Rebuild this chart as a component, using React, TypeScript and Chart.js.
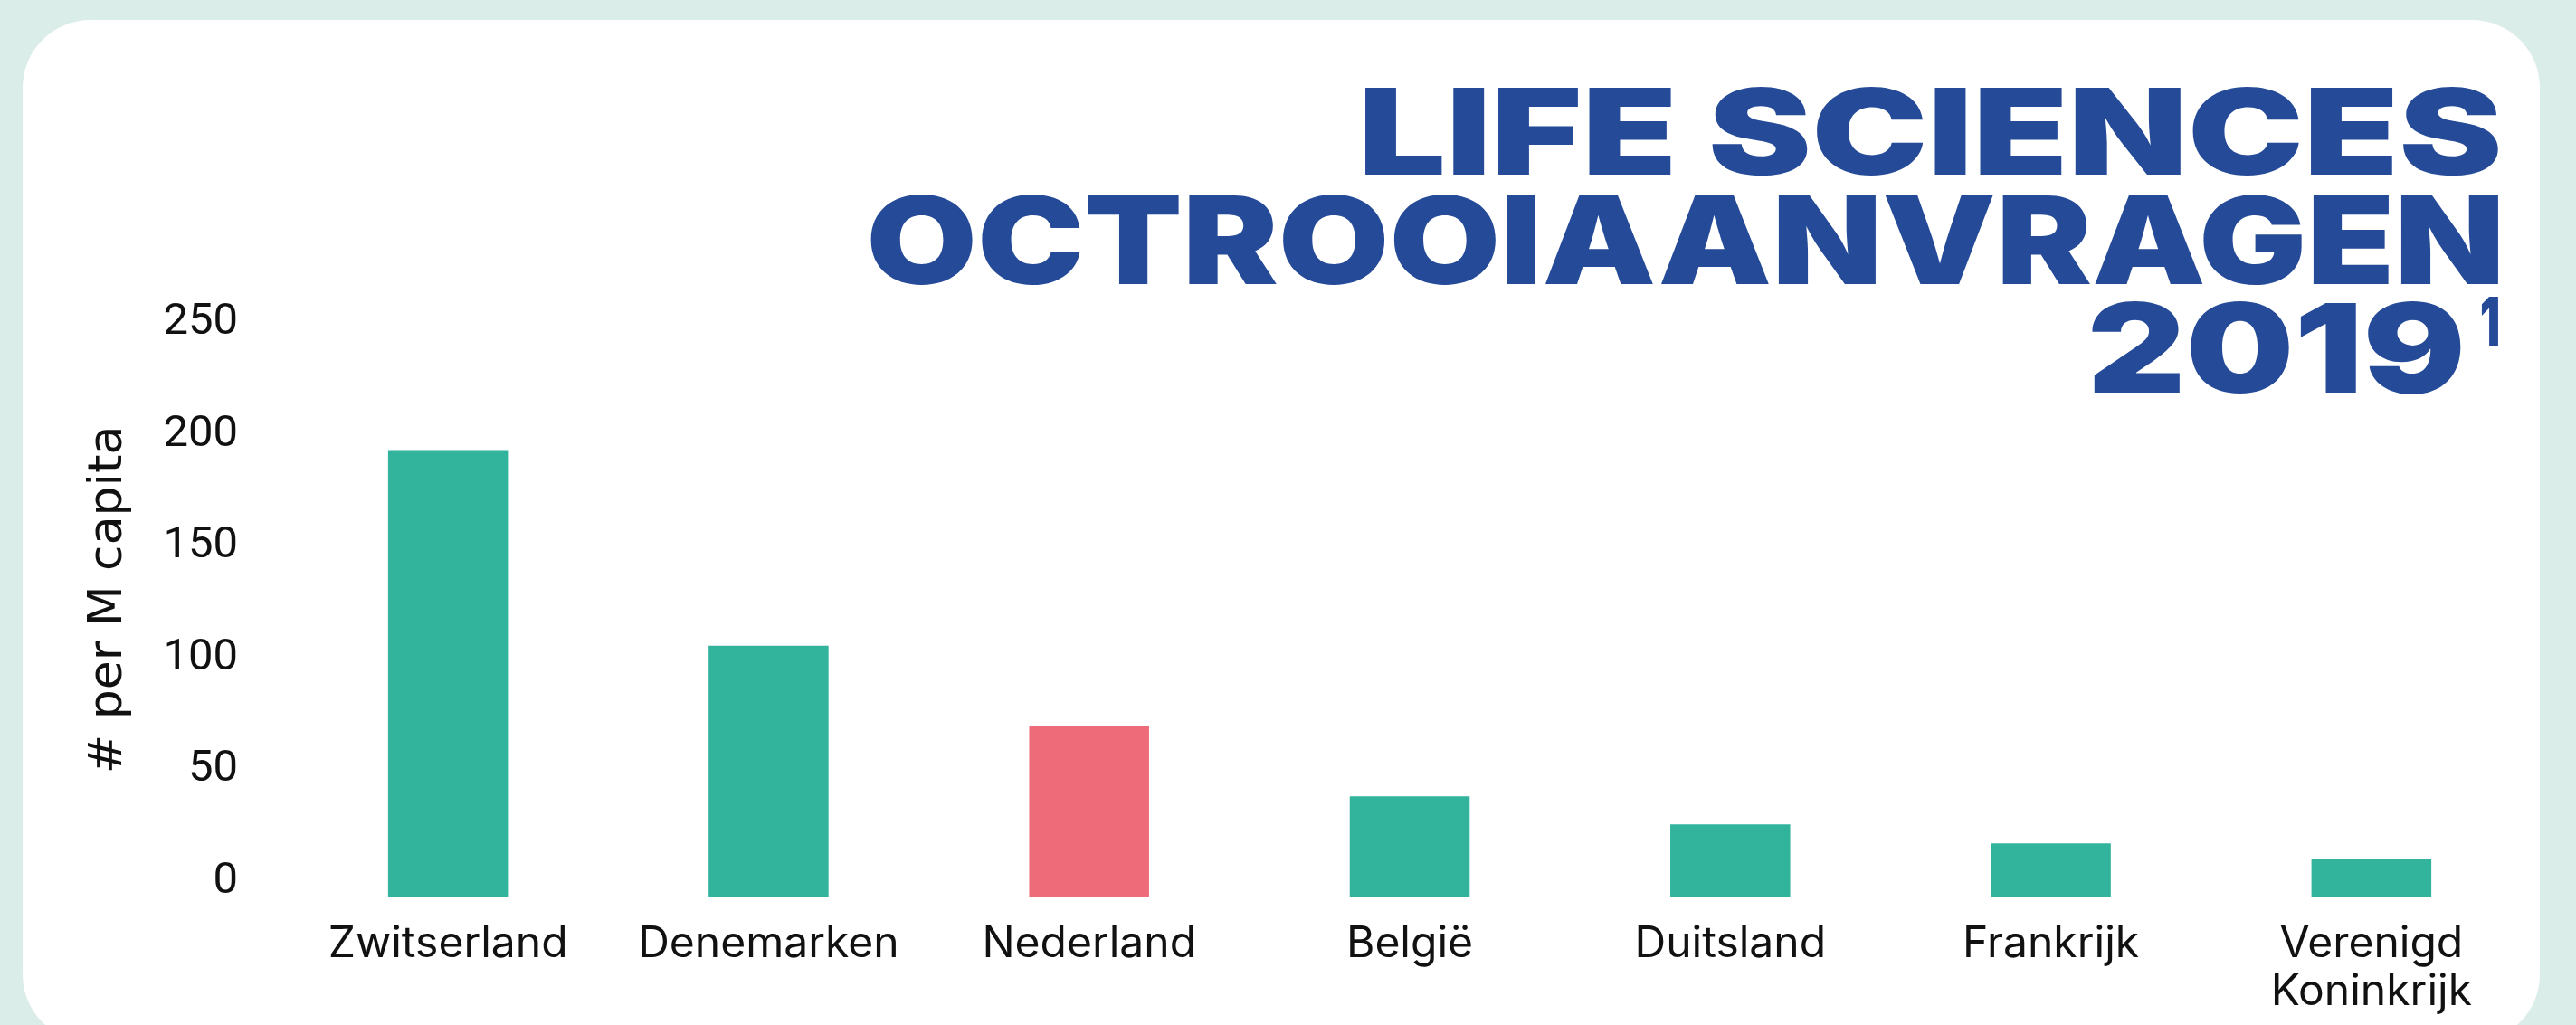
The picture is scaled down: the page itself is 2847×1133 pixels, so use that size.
import React, { useEffect, useRef } from "react";
import { Chart, registerables } from "chart.js";

Chart.register(...registerables);

// ---- data ----
const categories: (string | string[])[] = [
  "Zwitserland",
  "Denemarken",
  "Nederland",
  "België",
  "Duitsland",
  "Frankrijk",
  ["Verenigd", "Koninkrijk"],
];
const values = [200, 112.5, 76.5, 45, 32.5, 24, 17];
const highlightIndex = [2];
const yTickValues = [0, 50, 100, 150, 200, 250];
const yAxisTitle = "# per M capita";
const titleLines = ["LIFE SCIENCES", "OCTROOIAANVRAGEN", "2019"];
const titleSup = "1";

// ---- styles ----
const W = 2847;
const H = 1133;
const BG = "#DBEDE8";
const TEAL = "#31B39C";
const PINK = "#EE6C79";
const BLUE = "#254A98";
const TEXT = "#111111";
const FONT = "Roboto, 'Noto Sans', sans-serif";
const LABEL_FONT = "Inter, Roboto, sans-serif";
const TITLE_FONT = "Inter, Roboto, sans-serif";

// measure the real ink box of a text by rasterising it off-screen
function inkBox(text: string, font: string) {
  const c = document.createElement("canvas");
  c.width = 3000;
  c.height = 400;
  const g = c.getContext("2d") as CanvasRenderingContext2D;
  g.font = font;
  g.textAlign = "left";
  g.textBaseline = "alphabetic";
  g.fillStyle = "#000";
  const ox = 200;
  const oy = 300;
  g.fillText(text, ox, oy);
  const d = g.getImageData(0, 0, c.width, c.height).data;
  let minX = c.width, maxX = -1, minY = c.height, maxY = -1;
  for (let y = 0; y < c.height; y++) {
    for (let x = 0; x < c.width; x++) {
      if (d[(y * c.width + x) * 4 + 3] > 100) {
        if (x < minX) minX = x;
        if (x > maxX) maxX = x;
        if (y < minY) minY = y;
        if (y > maxY) maxY = y;
      }
    }
  }
  return { left: minX - ox, right: maxX + 1 - ox, top: oy - minY, bottom: maxY + 1 - oy };
}

const titlePlugin = {
  id: "bigTitle",
  afterDraw(chart: any) {
    const ctx: CanvasRenderingContext2D = chart.ctx;
    ctx.save();
    ctx.fillStyle = BLUE;
    const draw = (text: string, left: number, right: number, baseline: number, capH: number) => {
      const size = 130;
      const font = `900 ${size}px ${TITLE_FONT}`;
      const b = inkBox(text, font);
      const sx = (right - left) / (b.right - b.left);
      const sy = capH / b.top;
      ctx.save();
      ctx.font = font;
      ctx.textAlign = "left";
      ctx.textBaseline = "alphabetic";
      ctx.translate(left, baseline);
      ctx.scale(sx, sy);
      ctx.fillText(text, -b.left, 0);
      ctx.restore();
    };
    draw(titleLines[0], 1509, 2761, 193, 97);
    draw(titleLines[1], 962, 2761, 314, 99);
    draw(titleLines[2], 2312, 2720, 434, 101);
    draw(titleSup, 2743, 2761, 383, 55);
    ctx.restore();
  },
};

export default function App() {
  const ref = useRef<HTMLCanvasElement | null>(null);

  useEffect(() => {
    document.body.style.margin = "0";
    const canvas = ref.current;
    if (!canvas) return;
    const colors = values.map((_, i) => (highlightIndex.includes(i) ? PINK : TEAL));
    const chart = new Chart(canvas, {
      type: "bar",
      data: {
        labels: categories as any,
        datasets: [
          {
            data: values,
            backgroundColor: colors,
            borderWidth: 0,
            barPercentage: 0.374,
            categoryPercentage: 1,
          },
        ],
      },
      options: {
        animation: false,
        responsive: false,
        devicePixelRatio: 1,
        layout: { padding: { top: 334.5, right: 49, bottom: 0, left: 0 } },
        plugins: {
          legend: { display: false },
          tooltip: { enabled: false },
          title: { display: false },
        },
        scales: {
          x: {
            grid: { display: false, drawTicks: false },
            border: { display: false },
            ticks: {
              color: TEXT,
              font: { family: LABEL_FONT, size: 48, lineHeight: 1.1 },
              padding: 26,
              maxRotation: 0,
              autoSkip: false,
            },
            afterFit: (s: any) => {
              s.height = H - 991.5;
            },
          },
          y: {
            min: 0,
            max: 266,
            grid: { display: false, drawTicks: false },
            border: { display: false },
            ticks: {
              stepSize: 50,
              color: TEXT,
              font: { family: FONT, size: 49 },
              padding: 55,
              labelOffset: -17,
            },
            afterBuildTicks: (s: any) => {
              s.ticks = yTickValues.map((v) => ({ value: v }));
            },
            afterFit: (s: any) => {
              s.width = 318;
            },
            title: {
              display: true,
              text: yAxisTitle,
              color: TEXT,
              font: { family: "'DejaVu Sans', sans-serif", size: 52, lineHeight: 1.2 },
              padding: { top: 89, bottom: 0 },
            },
          },
        },
      },
      plugins: [titlePlugin],
    });
    return () => chart.destroy();
  }, []);

  return (
    <div style={{ position: "relative", width: W, height: H, overflow: "hidden", background: BG }}>
      <div
        style={{
          position: "absolute",
          left: 25,
          top: 22,
          width: 2782,
          height: 1130,
          background: "#ffffff",
          borderRadius: 75,
        }}
      />
      <canvas
        ref={ref}
        width={W}
        height={H}
        style={{ position: "absolute", left: 0, top: 0, width: W, height: H }}
      />
    </div>
  );
}
